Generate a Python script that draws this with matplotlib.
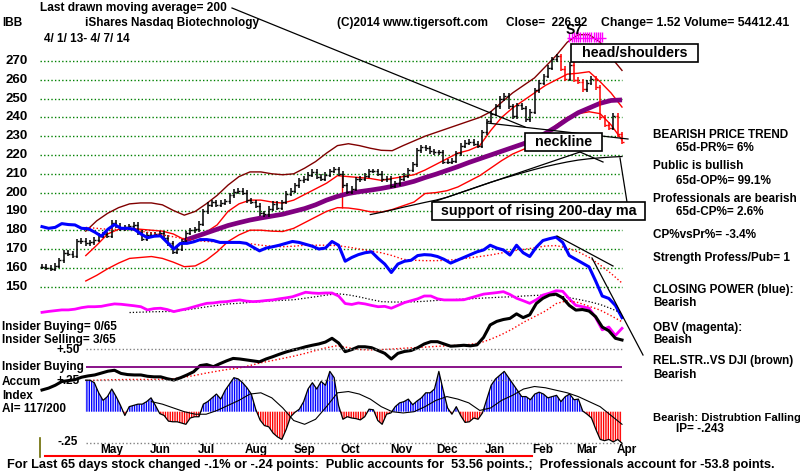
import numpy as np
import pandas as pd
import matplotlib
matplotlib.use("Agg")
import matplotlib.pyplot as plt
from matplotlib.patches import Rectangle
from matplotlib.lines import Line2D
from matplotlib.transforms import blended_transform_factory

plt.rcParams['font.family'] = ['Liberation Sans', 'DejaVu Sans']
plt.rcParams['hatch.linewidth'] = 1.0

W, H = 800, 472
start, end = "2013-04-01", "2014-04-07"
days = pd.bdate_range(start, end)
n_days = len(days)

# ---- data ----
# closes, one every 2 trading days
close = [160.5,160,159.5,161,164,168,167.5,166.5,174,174.5,
         173,173.5,175,177,178,177,184,182.5,181,181.5,
         182,183,179,175.5,177.5,177.5,178,178.5,176,173,
         168.5,170,174,178.5,180,180.5,183.5,190,193.5,195,
         193.5,194.5,195.5,198.5,200.5,201,200,196,195,193,
         189,188.5,191.5,194,192,195,199.5,201,204,206.5,
         207.5,209.5,211,208.5,207.5,209.5,211.5,212.5,210,204,
         200.5,202,207,207.5,209,211.5,211.5,210,207,207.5,
         203.5,205,207.5,209,212,215,222.5,224,223.5,222,
         221.5,221.5,216.5,216.5,217,221,225,226.5,227,226,
         225,232,238,242,246,250,251.5,246,240.5,246.5,
         245,239,243,254.5,258.5,262,266.5,271,272.5,266,
         260.5,268,260,259,255,258.5,260.5,256,240,236,
         234.5,241,231,226.92]

# accumulation index, same 2-day sampling
ai = [np.nan] * 10 + [
    0.25,0.25,0.23,0.15,0.09,0.12,0.18,0.12,0.05,-0.03,
    0.04,0.05,0.06,0.06,0.08,0.11,0.05,-0.015,-0.03,-0.075,
    -0.08,-0.08,-0.09,-0.1,-0.05,-0.04,-0.04,0.06,0.08,0.11,
    0.14,0.1,0.17,0.22,0.27,0.26,0.23,0.19,0.14,0.02,
    -0.066,-0.11,-0.12,-0.17,-0.2,-0.22,-0.14,-0.04,-0.005,0.02,
    0.08,0.18,0.23,0.18,0.24,0.21,0.32,0.27,0.05,-0.06,
    -0.04,-0.05,-0.055,-0.065,-0.04,0.02,0.015,-0.07,-0.1,-0.02,
    -0.01,0.04,0.07,0.08,0.1,0.055,0.085,0.11,0.15,0.15,
    0.18,0.32,0.17,0.03,-0.02,0.04,-0.03,-0.085,-0.08,-0.05,
    -0.06,-0.01,0.1,0.21,0.26,0.29,0.32,0.27,0.22,0.17,
    0.12,0.12,0.095,0.14,0.155,0.14,0.11,0.12,0.13,0.08,
    0.12,0.14,0.095,0.1,0.005,-0.02,-0.05,-0.14,-0.22,-0.23,
    -0.22,-0.24,-0.22,-0.25]

# closing power (blue), OBV (magenta), rel. strength (black): every 3 days, chart units
cp = [181.9,181,181.5,183.5,183,182.8,181,180.8,179,176.8,
      180.5,183,181,181,180.5,178,176,176.8,177,173.5,
      170,173,173,173.8,175,175,174.5,173.5,173.5,173.5,
      173.5,173,171,169,170.5,171.2,172,173,174,173.5,
      172.5,171.5,170,170.5,174,172,163.5,165.5,167,168,
      168.5,165,162,157.5,162,163.5,164,166.5,167,166.8,
      166,164.5,162.5,164,165.5,167,168.5,169.5,172,170.5,
      169.5,166.8,172,168,166,171,174.5,175.5,176.3,173.5,
      166.5,164.5,162.5,160.5,153,145,143.7,140,133.5]
obv = [136.3,136.8,137.2,137.6,137.6,138,138.8,139.3,139.3,139.5,
       140.2,140.8,140.6,140.2,139.8,139.3,137.6,138.3,138.5,137.8,
       136.7,137.5,138.2,139.2,140.2,141.1,141.3,141.8,142,142.5,
       142.9,142.3,142,142.2,142.6,142.9,143.5,144,144.6,145.8,
       147,146.6,146.4,146.6,146.6,145,141,140.5,141.3,140.8,
       140,139.3,139.5,138.5,140,141.5,142.5,143.5,145,145,
       143.5,142.9,142.9,142.9,143,144,145,146,146.4,146.8,
       147.3,145.8,143.8,142.5,141.1,143,145.5,146.5,147.8,147.5,
       143.5,140,139.3,138.5,133.5,127,128.5,124,127.8]
rs = [95,96,97.5,99.5,100,100.5,101.8,102.5,103,104,
      105,105.5,103.8,103.2,103,103,102.3,102,102,101,
      100.3,101.5,103,104.7,108,108.5,107.4,109,110.5,111.8,
      111.5,111,110.5,110,111.5,112.7,114,115.2,116.2,117,
      118,118.8,119.5,120.5,122.5,120,115.4,116.5,118,118,
      117.5,116,114.5,111.5,114.5,115.5,116,117.5,119.5,120.7,
      120.7,119.5,118.3,118.5,118.8,118.5,119,123,129.6,131.5,
      132.5,133.1,135.5,133.5,135,141,143.8,145.5,146,144,
      140,137.5,137.8,137,134,128.5,126.5,122.5,121.6]

# weekly samples of the smooth lines
band_upper = [np.nan] * 4 + [
    179.5,185,189,192,194,194.5,194.5,193.5,190.5,188,
    190,194,198.5,204,208.5,211,211,210,209.5,210,
    213,216.5,221,225,226,225,223.6,222.5,222.3,225,
    227.5,230,232,234,236,238,240,243,248,253,
    257,261,267,273,280,284,284,280,272,265]
ma_upper = [np.nan] * 4 + [
    166.5,172,178,180.5,181,180.5,180,179.5,178,175,
    176.5,179,182.8,190,194,196,196,195,194.4,196,
    199,202,205,209,208.5,208,207.5,206.5,207.5,208.5,
    209.5,212,215,218,221,222.5,225,233,240,245,
    249,253,257,260,263,263.5,264.3,259,253,245.5]
ma_lower = [np.nan] * 4 + [
    153,156,159.5,162.5,165,165.5,166,165,163,160.6,
    161,164,168.5,174,177.5,180,180,179.5,179.3,181,
    184,187,190,192,191.8,191,189.8,189.6,191,193,
    195,199.5,200,201,203,206,209,213,217,220.5,
    223,226,231,236,240,242,243,242,236,228]
ma65 = [np.nan] * 13 + [
    174.5,176.5,178.5,180.5,182.5,184,185.4,186.5,187.5,188.5,
    190,191.5,193.5,196,198,199.5,200.5,201.3,202.2,203.3,
    204.5,206,208,209.8,211.8,213.8,216,218,220,222,
    224,226,228.5,231.5,235,239,242.5,245,247.5,249,249.3]
ma200 = [np.nan] * 30 + [
    188.3,189.5,190.8,192.2,193.5,194.8,196,197.5,199.5,201.5,
    203.5,205.5,207.3,209,210.7,212.3,213.8,215.1,216.3,217.3,
    218,218.5,218.9,219.2]
cp_ma = [np.nan] * 4 + [
    181.5,181,180.5,180.5,180.3,179.5,178.5,177.5,176.5,175.5,
    174.5,174,173.8,173.6,173.3,172.8,172,171.5,171.2,171.5,
    172,172,172,171.8,171,170,169,168,166.5,164.5,
    164,163.8,163.8,164,164.5,165.2,166,166.8,167.9,169,
    169.8,170.6,171.6,171.8,170.5,168.5,165.5,161.5,157,151.9]
obv_ma = [np.nan] * 8 + [
    136.2,136.4,136.6,136.7,136.8,137.5,138.3,139.2,140,140.8,
    141.1,141.6,142,142.4,142.7,143,143.8,144.6,145.5,146.2,
    145.6,144.5,143.2,142,141.8,141.8,141.9,142.2,142.6,142.9,
    143.2,143.5,143.8,144.1,144.4,144.6,145,145.3,145.5,145.2,
    144.3,143.2,142,140.5,138.3,135.8]
rs_ma = [np.nan] * 4 + [
    100,100.2,100.4,100.5,100.6,100.6,100.6,100.7,101,101.8,
    102.8,104,105,106,106.7,108,109.5,110.6,111.8,113,
    114.4,116,117.5,118.6,117.5,116.5,116.3,116.5,116.8,117.2,
    117.5,117.8,118.2,118.5,118.8,119.2,120,122,124.5,127.5,
    131,134,137,141,142.5,141.5,139.5,137.5,134.5,131.3]
ai_ma = [np.nan] * 10 + [
    0.08,0.06,0.03,0.0,-0.02,-0.02,0.01,0.05,0.09,0.14,
    0.15,0.11,0.03,-0.07,-0.1,-0.06,0.04,0.15,0.16,0.14,
    0.1,0.04,0.0,-0.01,0.0,0.04,0.09,0.12,0.1,0.07,
    0.01,0.03,0.09,0.13,0.18,0.2,0.19,0.17,0.15,0.12,
    0.08,0.04,-0.03,-0.1]

price_levels = list(range(150, 271, 10))
ai_levels = [0.5, 0.25, -0.25]
months = ["May", "Jun", "Jul", "Aug", "Sep", "Oct", "Nov", "Dec", "Jan", "Feb", "Mar", "Apr"]
month_mid = ["2013-05-15", "2013-06-14", "2013-07-15", "2013-08-15", "2013-09-16",
             "2013-10-15", "2013-11-15", "2013-12-16", "2014-01-15", "2014-02-14",
             "2014-03-14", "2014-04-09"]
sell_days = pd.bdate_range("2014-03-04", "2014-03-25")
band_break_day = "2013-10-09"


def day_pos(d):
    return np.busday_count(start, np.datetime64(d, 'D'))


def fx(x):
    return x / W


def fy(y):
    return 1 - y / H


x2 = np.linspace(0, n_days - 1, len(close))
x3 = np.linspace(0, n_days - 1, len(cp))
xw = np.linspace(0, n_days - 1, len(band_upper))

fig = plt.figure(figsize=(8, 4.72), dpi=100)
fig.patch.set_facecolor('white')

pxd = 580 / (n_days - 1)
ax = fig.add_axes([fx(40), fy(400), fx(632) - fx(40), fy(0) - fy(400)])
ax.set_xlim((40 - 42) / pxd, (632 - 42) / pxd)
ax.set_ylim(270 - (400 - 61) / 1.88, 270 + 61 / 1.88)
ax.axis('off')

ax_ai = fig.add_axes([fx(40), fy(450), fx(632) - fx(40), fy(330) - fy(450)])
ax_ai.set_xlim(ax.get_xlim())
ax_ai.set_ylim(-(450 - 411.7) / 126, (411.7 - 330) / 126)
ax_ai.axis('off')
ax_ai.patch.set_alpha(0)

dots = (0, (1, 1.6))
ax.hlines(price_levels, -0.9, n_days - 1, colors='#008000', linestyles=dots, lw=1)

# price bands and averages
ax.plot(xw, band_upper, color='#800000', lw=1)
ax.plot(xw, ma_upper, color='red', lw=1)
ax.plot(xw, ma_lower, color='red', lw=1)
bp = day_pos(band_break_day)
ax.vlines(bp, np.interp(bp, xw, ma_lower), np.interp(bp, xw, ma_upper), colors='red', lw=1)
ax.plot(xw, ma200, color='black', lw=0.9)
ax.plot(xw, ma65, color='#800080', lw=3.4, solid_capstyle='butt')

# price bars
c = np.array(close)
prev = np.r_[c[0], c[:-1]]
hi = np.maximum(prev, c) + 1.3
lo = np.minimum(prev, c) - 1.3
peak = int(np.argmax(c))
cols = ['red' if (i >= peak and c[i] < prev[i]) else 'black' for i in range(len(c))]
ax.vlines(x2, lo, hi, colors=cols, lw=1.1)
ax.hlines(c, x2, x2 + 0.9, colors=cols, lw=1)
ax.hlines(prev, x2 - 0.9, x2, colors=cols, lw=1)

# indicator lines
ax.plot(xw, cp_ma, color='red', lw=1, ls=dots)
ax.plot(x3, cp, color='#0000ff', lw=2.2)
ax.plot(xw, obv_ma, color='black', lw=0.9, ls=dots)
ax.plot(x3, obv, color='#ff00ff', lw=2)
ax.plot(xw, rs_ma, color='red', lw=1, ls=dots)
ax.plot(x3, rs, color='black', lw=2.2)

# sell signals at top
sp = [day_pos(d) for d in sell_days]
ax.vlines(sp, 280.1, 285.4, colors='#ff00ff', lw=1, clip_on=False)
ax.hlines(282.5, sp[0] - 1, sp[-1] + 1.5, colors='#ff00ff', lw=1, clip_on=False)

# accumulation index
a = np.array(ai)
ai_start = int(np.argmax(~np.isnan(a)))
ax_ai.hlines(0.355, x2[ai_start], n_days - 1, colors='#800080', lw=1.3)
ax_ai.hlines(ai_levels, x2[ai_start], n_days - 1, colors='#808080', linestyles=dots, lw=1)
ok = ~np.isnan(a)
ax_ai.fill_between(x2[ok], 0, a[ok], where=a[ok] >= 0, interpolate=True,
                   facecolor='none', edgecolor='#0000ff', hatch='|' * 7, lw=0)
ax_ai.fill_between(x2[ok], 0, a[ok], where=a[ok] <= 0, interpolate=True,
                   facecolor='none', edgecolor='red', hatch='|' * 7, lw=0)
ax_ai.plot(x2, a, color='black', lw=0.9)
ax_ai.plot(xw, ai_ma, color='black', lw=0.8)

# ---- text ----
def T(x, y, s, size=8.5, **kw):
    kw.setdefault('ha', 'left')
    return fig.text(fx(x), fy(y), s, fontsize=size, fontweight='bold', va='center', **kw)

lab_tr = blended_transform_factory(fig.transFigure, ax.transData)
for v in price_levels:
    ax.text(fx(5), v, str(v), transform=lab_tr, fontsize=9.5, fontweight='bold', va='center')

mon_tr = blended_transform_factory(ax_ai.transData, fig.transFigure)
for name, d in zip(months, month_mid):
    ax_ai.text(day_pos(d), fy(450), name, transform=mon_tr, fontsize=8.5,
               fontweight='bold', ha='center', va='center')

T(40, 7.5, "Last drawn moving average= 200", size=8.6)
T(2, 23, "IBB")
T(85, 23, "iShares Nasdaq Biotechnology")
T(44, 39, "4/ 1/ 13- 4/ 7/ 14")
T(337, 23, "(C)2014 www.tigersoft.com")
T(506, 23, "Close=  226.92")
T(601, 23, "Change= 1.52 Volume= 54412.41", size=8.8)
T(566, 30, "S7", size=10)

right = [(653, 135, "BEARISH PRICE TREND"), (676, 148, "65d-PR%= 6%"),
         (653, 166, "Public is bullish"), (676, 181, "65d-OP%= 99.1%"),
         (653, 199, "Professionals are bearish"), (676, 212, "65d-CP%= 2.6%"),
         (653, 235, "CP%vsPr%= -3.4%"), (653, 258, "Strength Profess/Pub= 1"),
         (653, 290, "CLOSING POWER (blue):"), (653, 303, "Bearish"),
         (653, 328, "OBV (magenta):"), (653, 340, "Beaish"),
         (653, 361, "REL.STR..VS DJI (brown)"), (653, 375, "Bearish"),
         (676, 429, "IP= -.243")]
for x, y, s in right:
    T(x, y, s)
T(653, 418, "Bearish: Distrubtion Falling", size=8.1)

left = [(2, 327, "Insider Buying= 0/65"), (2, 340, "Insider Selling= 3/65"),
        (2, 367, "Insider Buying"), (2, 382, "Accum"), (2, 396, "Index"),
        (2, 409, "AI= 117/200")]
for x, y, s in left:
    T(x, y, s)
T(80, 350, "+.50", ha='right')
T(80, 381, "+.25", ha='right')
T(78, 442, "-.25", ha='right')

T(7, 465, "For Last 65 days stock changed -.1% or -.24 points:  Public accounts for  53.56 points.;"
          "  Professionals account for -53.8 points.", size=9.2)

# annotation lines
for (x0, y0), (x1, y1) in [((232, 8), (525, 127)), ((487, 123), (628, 139)),
                           ((433, 202), (580, 152)), ((580, 152), (603, 162)),
                           ((620, 158), (627, 202)), ((557, 236), (613, 266)),
                           ((592, 258), (643, 355))]:
    fig.add_artist(Line2D([fx(x0), fx(x1)], [fy(y0), fy(y1)], color='black', lw=0.9, zorder=4))
fig.add_artist(Line2D([fx(39.5), fx(39.5)], [fy(438), fy(457)], color='#6b6b00', lw=1.2))
fig.add_artist(Line2D([fx(45), fx(532)], [fy(456), fy(456)], color='red', lw=1.5))

# labelled boxes
for (x0, y0, x1, y1), s in [((571, 44, 698, 62), "head/shoulders"),
                            ((525, 133, 602, 151), "neckline"),
                            ((432, 202, 645, 220), "support of rising 200-day ma")]:
    fig.add_artist(Rectangle((fx(x0), fy(y1)), fx(x1) - fx(x0), fy(y0) - fy(y1),
                             transform=fig.transFigure, fc='white', ec='black', lw=1.2, zorder=5))
    t = T((x0 + x1) / 2, (y0 + y1) / 2, s, size=10.3, ha='center')
    t.set_zorder(6)

fig.savefig("out.png", dpi=100, facecolor='white')
